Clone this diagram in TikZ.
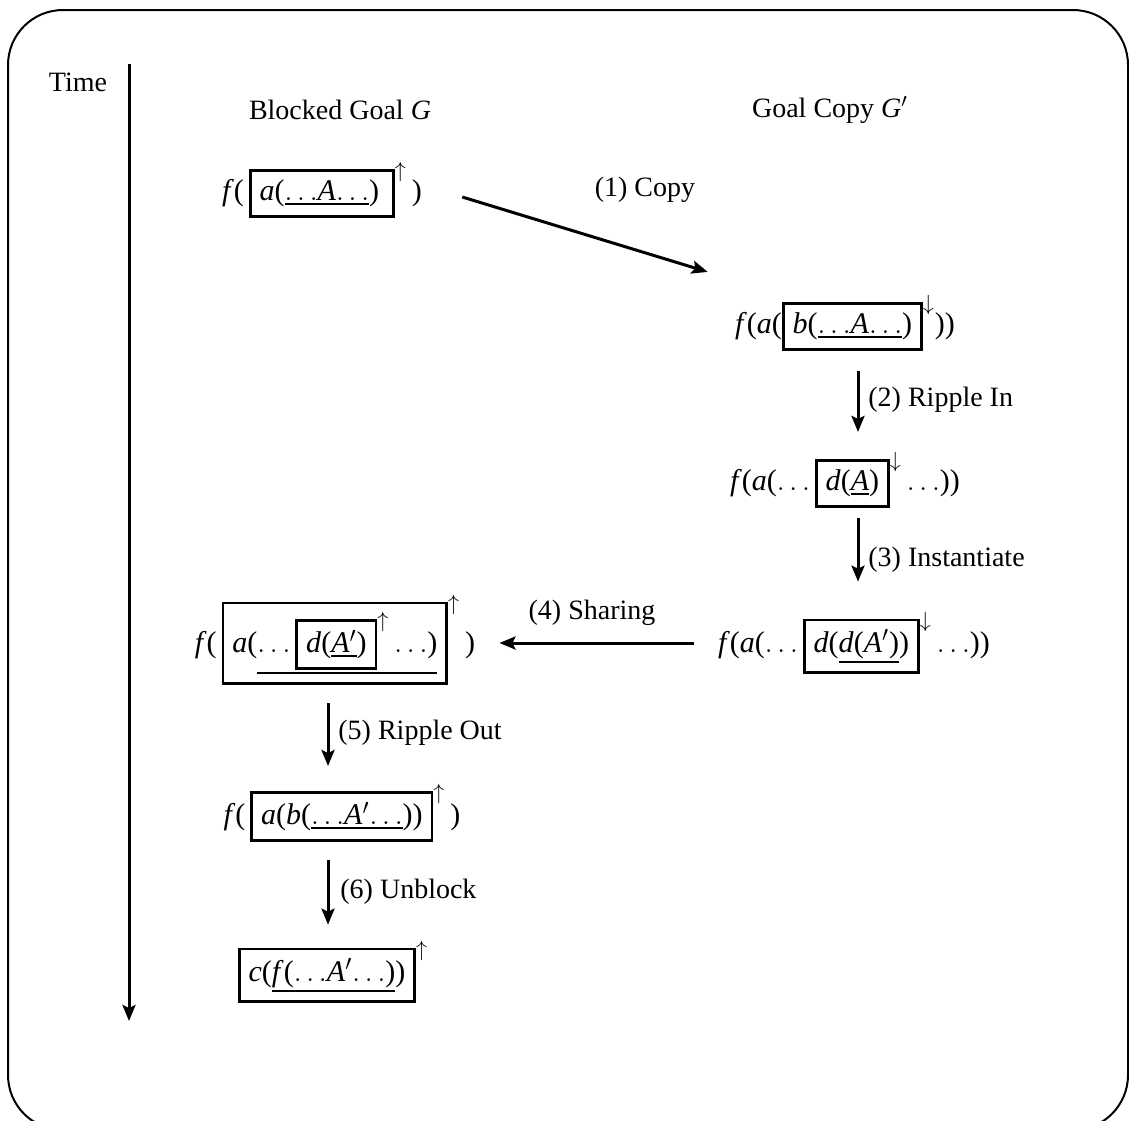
\documentclass[tikz,border=0pt]{standalone}
\usepackage{fontspec}
\setmainfont{Liberation Serif}
\usetikzlibrary{arrows.meta,calc}

% term notation helpers
\newcommand\vi[1]{\textit{#1}}
\newcommand\dd{$\ldots$}
\newcommand\ul[1]{\leavevmode\vtop{\hbox{#1}\kern1.2pt\hrule height 1.2pt}}
\newcommand\wup[1]{$\mbox{\fbox{#1}}^{\uparrow}$}
\newcommand\wdn[1]{$\mbox{\fbox{#1}}^{\downarrow}$}
\setlength\fboxrule{1.35pt}
\setlength\fboxsep{4pt}

\tikzset{
  expr/.style={inner sep=0pt, font=\fontsize{15}{18}\selectfont},
  lbl/.style={inner sep=0pt},
  arr/.style={line width=1.5pt, -{Stealth[length=8pt,width=6.5pt,inset=1.5pt]}},
}

\begin{document}
\begin{tikzpicture}[x=0.5pt, y=-0.5pt, font=\fontsize{14}{17}\selectfont]
\useasboundingbox (0,0) rectangle (1129,1120);
\draw[line width=1pt, rounded corners=27.5pt] (8,10) rectangle (1128,1130);

% time axis
\node (time) at (78,82) {Time};
\coordinate (t0) at (129,64);
\coordinate (t1) at (129,1021);
\draw[arr] (t0) -- (t1);

% column headings
\node (hG) at (340,110) {Blocked Goal \vi{G}};
\node (hC) at (830,110) {Goal Copy \vi{G}$'$};

% goal states
\node[expr] (n1) at (322,190) {\vi{f}(\,\wup{\vi{a}(\ul{\dd\vi{A}\dd})\,}\,)};
\node[expr] (n2) at (845,323) {\vi{f}(\vi{a}(\wdn{\vi{b}(\ul{\dd\vi{A}\dd})}))};
\node[expr] (n3) at (845,480) {\vi{f}(\vi{a}(\dd\,\wdn{\vi{d}(\ul{\vi{A}})}\,\dd))};
\node[expr] (n4) at (854,643) {\vi{f}(\vi{a}(\dd\,\wdn{\vi{d}(\ul{\vi{d}(\vi{A}$'$)})}\,\dd))};
\node[expr] (n5) at (335,640) {\vi{f}(\,\wup{\vi{a}(\ul{\dd\,\wup{\vi{d}(\ul{\vi{A}$'$})}\,\dd)}}\,)};
\node[expr] (n6) at (342,813) {\vi{f}(\,\wup{\vi{a}(\vi{b}(\ul{\dd\vi{A}$'$\dd}))}\,)};
\node[expr] (n7) at (333,972) {\wup{\vi{c}(\ul{\vi{f}(\dd\vi{A}$'$\dd)})}};

% step columns
\coordinate (colR) at (858,0);
\coordinate (colL) at (328,0);

% steps
\draw[arr] ($(n1.east)+(40,7)$) -- ($(n2.north west)+(-27,-23)$);
\node[lbl] (l1) at (645,190) {(1) Copy};

\draw[arr, shorten <=10pt, shorten >=10pt] (n2.south -| colR) -- (n3.north -| colR);
\node[lbl, anchor=west] (l2) at (868,400) {(2) Ripple In};

\draw[arr, shorten <=5pt, shorten >=15pt] (n3.south -| colR) -- (n4.north -| colR);
\node[lbl, anchor=west] (l3) at (868,560) {(3) Instantiate};

\draw[arr, shorten <=12pt, shorten >=12pt] (n4.west) -- (n5.east |- n4.west);
\node[lbl] (l4) at (592,613) {(4) Sharing};

\draw[arr, shorten <=9pt, shorten >=9pt] (n5.south -| colL) -- (n6.north -| colL);
\node[lbl, anchor=west] (l5) at (338,733) {(5) Ripple Out};

\draw[arr, shorten <=9pt, shorten >=8pt] (n6.south -| colL) -- (n7.north -| colL);
\node[lbl, anchor=west] (l6) at (340,892) {(6) Unblock};
\end{tikzpicture}
\end{document}
